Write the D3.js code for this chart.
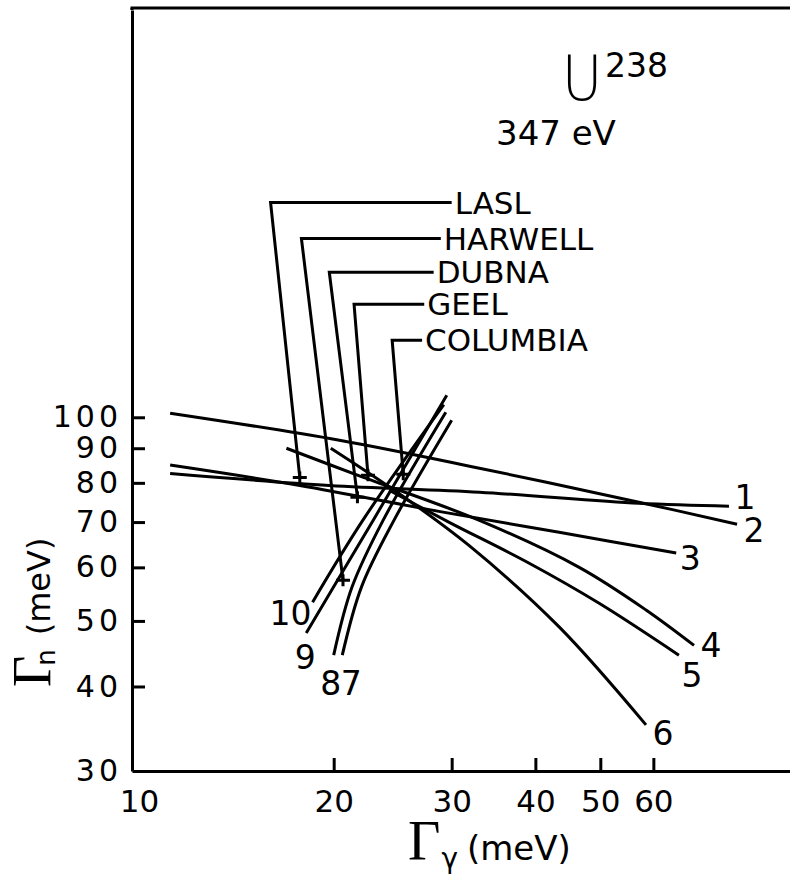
<!DOCTYPE html>
<html>
<head>
<meta charset="utf-8">
<script src="https://cdn.jsdelivr.net/npm/d3@7/dist/d3.min.js"></script>
<style>
  body { margin: 0; background: #fff; }
  text { font-family: "DejaVu Sans", sans-serif; fill: #000; }
</style>
</head>
<body>
<div id="chart"></div>
<script>
// U238, 347 eV resonance: Gamma_n vs Gamma_gamma (meV), log-log

const width = 790, height = 878;
const margin = {top: 8, left: 132, bottom: 107};

const xTickValues = [10, 20, 30, 40, 50, 60];
const yTickValues = [30, 40, 50, 60, 70, 80, 90, 100];

// each curve: [Gamma_gamma, Gamma_n] in meV
const curve1 = [[11.4, 82.6], [19.7, 79.3], [33.0, 77.5], [57.1, 74.6], [77.8, 73.9]];
const curve2 = [[11.4, 101.4], [20.4, 92.5], [33.0, 84.1], [57.1, 74.9], [80.0, 69.5]];
const curve3 = [[11.4, 85.0], [17.8, 79.3], [28.7, 72.6], [43.4, 67.6], [64.9, 63.0]];
const curve4 = [[17.0, 90.0], [21.8, 82.0], [33.0, 70.4], [46.5, 60.0], [58.5, 51.9], [69.0, 46.0]];
const curve5 = [[24.2, 78.0], [29.7, 70.0], [39.1, 60.9], [49.8, 53.1], [65.5, 44.5]];
const curve6 = [[19.8, 90.0], [25.0, 77.2], [31.8, 64.7], [43.4, 49.0], [58.5, 35.1]];
const curve7 = [[20.6, 44.5], [22.0, 56.1], [24.6, 70.4], [30.0, 99.0]];
const curve8 = [[20.0, 44.5], [21.3, 56.1], [23.7, 70.4], [29.4, 101.7]];
const curve9 = [[18.2, 48.0], [22.9, 70.4], [29.5, 107.8]];
const curve10 = [[18.6, 53.3], [22.1, 70.4], [29.2, 104.4]];

const curves = [curve1, curve2, curve3, curve4, curve5, curve6, curve7, curve8, curve9, curve10];
const curveNames = ["1", "2", "3", "4", "5", "6", "7", "8", "9", "10"];

// measured points of the labs
const labNames = ["LASL", "HARWELL", "DUBNA", "GEEL", "COLUMBIA"];
const labPoints = [[17.8, 81.5], [20.65, 57.4], [21.7, 76.2], [22.5, 82.1], [25.4, 82.4]];
// leader elbow and label start, in data units
const labElbows = [[16.1, 207.8], [17.9, 183.8], [19.7, 163.8], [21.45, 146.9], [24.45, 130.0]];
const labLabelX = [30.0, 28.9, 28.2, 27.3, 27.1];

// label offsets (px) from curve end (1-6) or start (7-10)
const curveLabelOffsets = [[16, -9], [17, 6], [14, 5], [17, 0], [13, 20], [17, 8],
                           [9, 28], [-3, 28], [-1, 24], [-22, 11]];

const svg = d3.select("#chart")
  .append("svg")
  .attr("width", width)
  .attr("height", height);

const x = d3.scaleLog().domain([10, 100]).range([margin.left, 802]);
const y = d3.scaleLog().domain([30, 400]).range([height - margin.bottom, 10]);

// frame top
svg.append("line")
  .attr("x1", x(10) - 1.5).attr("x2", width)
  .attr("y1", margin.top).attr("y2", margin.top)
  .attr("stroke", "#000").attr("stroke-width", 3);
svg.append("line")
  .attr("x1", x(10)).attr("x2", x(10))
  .attr("y1", margin.top).attr("y2", y(400))
  .attr("stroke", "#000").attr("stroke-width", 3);

const xAxis = svg.append("g")
  .attr("transform", `translate(0,${y(30)})`)
  .call(d3.axisBottom(x).tickValues(xTickValues).tickFormat(d3.format("d"))
    .tickSize(-13).tickSizeOuter(0).tickPadding(19));

const yAxis = svg.append("g")
  .attr("transform", `translate(${x(10)},0)`)
  .call(d3.axisLeft(y).tickValues(yTickValues).tickFormat(d3.format("d"))
    .tickSize(-13).tickSizeOuter(0).tickPadding(10));

[xAxis, yAxis].forEach(g => {
  g.select(".domain").attr("stroke-width", 3);
  g.selectAll(".tick line").attr("stroke-width", 3);
  g.selectAll(".tick text").attr("font-family", "DejaVu Sans").attr("fill", "#000");
});
xAxis.selectAll(".tick text").attr("font-size", 31);
xAxis.selectAll(".tick").filter(d => d === 10).select("text").attr("dx", 7);
xAxis.selectAll(".tick").filter(d => d === 10).select("line").remove();
yAxis.selectAll(".tick text").attr("font-size", 30).attr("letter-spacing", 4);
yAxis.selectAll(".tick").filter(d => d === 30).select("line").remove();

const line = d3.line()
  .x(d => x(d[0]))
  .y(d => y(d[1]))
  .curve(d3.curveCatmullRom.alpha(0.5));

svg.append("g")
  .selectAll("path")
  .data(curves)
  .join("path")
  .attr("d", line)
  .attr("fill", "none")
  .attr("stroke", "#000")
  .attr("stroke-width", 3);

svg.append("g")
  .selectAll("text")
  .data(curves)
  .join("text")
  .attr("x", (d, i) => x((i < 6 ? d[d.length - 1] : d[0])[0]) + curveLabelOffsets[i][0])
  .attr("y", (d, i) => y((i < 6 ? d[d.length - 1] : d[0])[1]) + curveLabelOffsets[i][1])
  .attr("dy", "0.36em")
  .attr("text-anchor", "middle")
  .attr("font-size", 33)
  .text((d, i) => curveNames[i]);

// lab leaders and markers
const labs = svg.append("g");
labNames.forEach((name, i) => {
  const px = x(labPoints[i][0]), py = y(labPoints[i][1]);
  const ex = x(labElbows[i][0]), ey = y(labElbows[i][1]);
  const lx = x(labLabelX[i]);
  labs.append("path")
    .attr("d", `M${lx},${ey}H${ex}L${px},${py}`)
    .attr("fill", "none").attr("stroke", "#000").attr("stroke-width", 3);
  labs.append("path")
    .attr("d", `M${px - 7},${py}H${px + 7}M${px},${py - 6}V${py + 6}`)
    .attr("stroke", "#000").attr("stroke-width", 3);
  labs.append("text")
    .attr("x", lx + 3).attr("y", ey).attr("dy", "0.36em")
    .attr("font-size", 31)
    .text(name);
});

// title
svg.append("text")
  .attr("transform", "translate(582,100) scale(0.88,1)")
  .attr("text-anchor", "middle")
  .attr("font-family", "Roboto").attr("font-weight", 300)
  .attr("font-size", 63)
  .text("U");
svg.append("text")
  .attr("x", 605).attr("y", 77)
  .attr("font-size", 33)
  .text("238");
svg.append("text")
  .attr("x", 496).attr("y", 145)
  .attr("font-size", 34)
  .text("347 eV");

// axis titles
const xt = svg.append("text").attr("x", 408).attr("y", 860);
xt.append("tspan").attr("font-family", "Liberation Serif").attr("font-size", 56).text("Γ");
xt.append("tspan").attr("font-size", 28).attr("dx", 1).attr("dy", 8).text("γ");
xt.append("tspan").attr("font-size", 34).attr("dx", 9).attr("dy", -8).text("(meV)");

const yt = svg.append("text").attr("transform", "translate(50,687) rotate(-90)");
yt.append("tspan").attr("font-family", "Liberation Serif").attr("font-size", 54).text("Γ");
yt.append("tspan").attr("font-size", 26).attr("dx", -10).attr("dy", 5).text("n");
yt.append("tspan").attr("font-size", 32).attr("dx", 14).attr("dy", -5).text("(meV)");
</script>
</body>
</html>
